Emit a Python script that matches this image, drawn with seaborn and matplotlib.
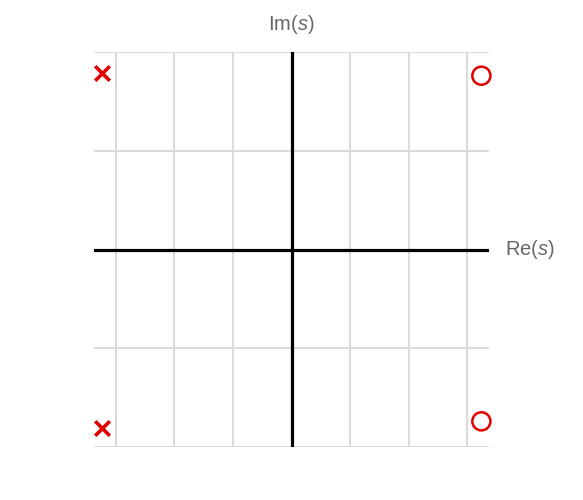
import numpy as np
import pandas as pd
import seaborn as sns
import matplotlib.pyplot as plt

# -------- DATA: poles and zeros in the s-plane --------
pole_re = [-3.24, -3.24]
pole_im = [1.79, -1.81]
zero_re = [3.24, 3.24]
zero_im = [1.76, -1.74]

x_grid = [-3, -2, -1, 0, 1, 2, 3]
y_grid = [-2, -1, 0, 1, 2]

poles = pd.DataFrame({'re': pole_re, 'im': pole_im})
zeros = pd.DataFrame({'re': zero_re, 'im': zero_im})

# -------- STYLE --------
sns.set_style('white')
plt.rcParams['font.family'] = ['Liberation Sans', 'DejaVu Sans']
plt.rcParams['mathtext.fontset'] = 'custom'
plt.rcParams['mathtext.rm'] = 'Liberation Sans'
plt.rcParams['mathtext.it'] = 'Liberation Sans:italic'

fig = plt.figure(figsize=(5.83, 5.00), dpi=100)
ax = fig.add_axes([94 / 583, 53 / 500, 395 / 583, 395 / 500])

red = '#e00000'
sns.scatterplot(data=poles, x='re', y='im', marker='x', s=110, color=red,
                linewidth=2.6, ax=ax, zorder=5, clip_on=False)
sns.scatterplot(data=zeros, x='re', y='im', marker='o', s=170, facecolor='none',
                edgecolor=red, linewidth=1.8, ax=ax, zorder=5, clip_on=False)

ax.set_xlim(-3.37, 3.37)
ax.set_ylim(-2, 2)
ax.set_xticks(x_grid)
ax.set_yticks(y_grid)
ax.grid(True, color='#d9d9d9', linewidth=1.4)
ax.tick_params(length=0, labelbottom=False, labelleft=False)
for sp in ax.spines.values():
    sp.set_visible(False)
ax.set_xlabel('')
ax.set_ylabel('')

ax.axhline(0, color='black', linewidth=2.3, zorder=3)
ax.axvline(0, color='black', linewidth=2.3, zorder=3)

ax.text(0, 2.28, 'Im($s$)', ha='center', va='center', fontsize=14.5, color='#666666')
ax.text(3.65, 0, 'Re($s$)', ha='left', va='center', fontsize=14.5, color='#666666')

fig.savefig('out.png', dpi=100)
